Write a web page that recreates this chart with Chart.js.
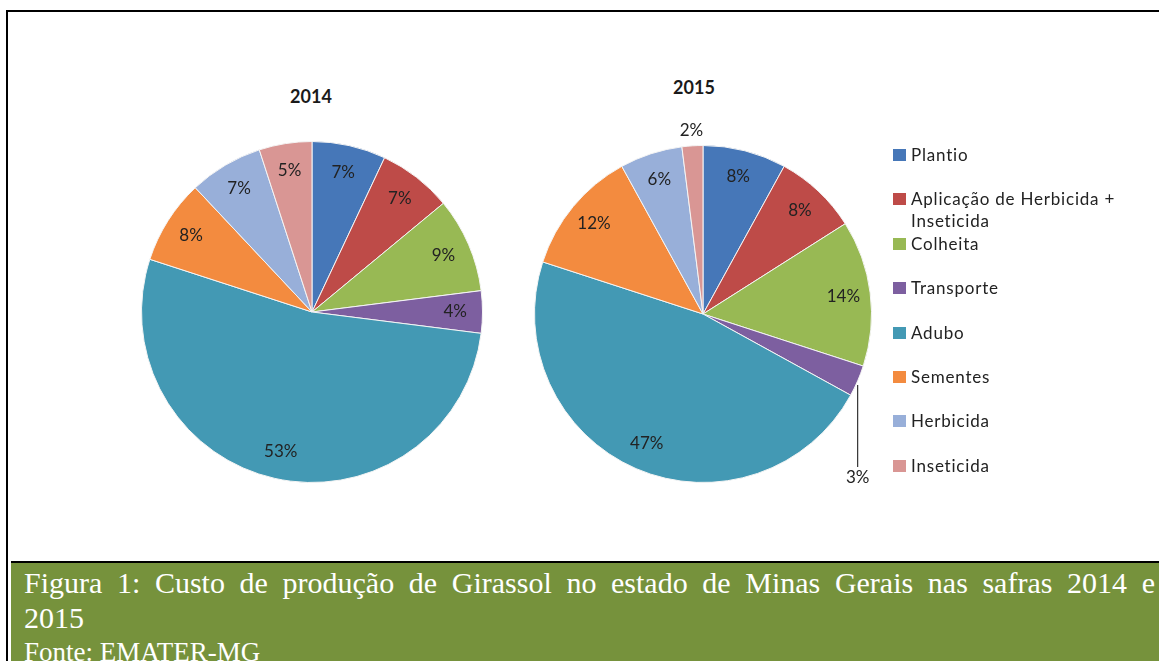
<!DOCTYPE html>
<html>
<head>
<meta charset="utf-8">
<script src="https://cdn.jsdelivr.net/npm/chart.js@4.4.1/dist/chart.umd.min.js"></script>
<style>
    body { margin: 0; width: 1159px; height: 661px; overflow: hidden; background: #fff; position: relative; font-family: Lato, sans-serif; }
    #frame { position: absolute; left: 6px; top: 10px; width: 1170px; height: 560px; border-left: 2.5px solid #000; border-top: 2.5px solid #000; }
    #caption { position: absolute; left: 6px; top: 561px; width: 1160px; height: 100px; border-left: 2.5px solid #000; }
    #captionBox { position: absolute; left: 2.5px; top: 0; right: 0; bottom: 0; background: #76923C; border-top: 2px solid #000;
        color: #fff; font-family: "Liberation Serif", "Times New Roman", serif; padding: 1.5px 0 0 13.5px; }
    #captionBox .line1 { width: 1131px; font-size: 30px; line-height: 35px; text-align: justify; text-align-last: justify; white-space: nowrap; }
    #captionBox .line2 { font-size: 30px; line-height: 35px; }
    #captionBox .fonte { font-size: 27px; line-height: 28px; margin-top: 3.5px; }
    .pieTitle { position: absolute; font-weight: bold; font-size: 18px; color: #1a1a1a; transform: translate(-50%, -50%); }
    canvas { position: absolute; }
    #legend { position: absolute; left: 893px; top: 0; }
    .item { position: absolute; left: 0; display: flex; align-items: flex-start; font-size: 17px; line-height: 22px; letter-spacing: 0.8px; color: #222; }
    .item .key { width: 13px; height: 12px; margin-top: 5px; margin-right: 5px; flex: none; }
    .item .txt { width: 230px; }
</style>
</head>
<body>
<div id="frame"></div>

<div class="pieTitle" style="left:311px; top:96px;">2014</div>
<div class="pieTitle" style="left:694px; top:87px;">2015</div>

<canvas id="pie2014" width="400" height="400" style="left:112px; top:112px;"></canvas>
<canvas id="pie2015" width="400" height="400" style="left:503px; top:114px;"></canvas>

<div id="legend"></div>

<div id="caption">
    <div id="captionBox">
        <div class="line1">Figura 1: Custo de produção de Girassol no estado de Minas Gerais nas safras 2014 e</div>
        <div class="line2">2015</div>
        <div class="fonte">Fonte: EMATER-MG</div>
    </div>
</div>

<script>
const categories = ['Plantio', 'Aplicação de Herbicida + Inseticida', 'Colheita', 'Transporte', 'Adubo', 'Sementes', 'Herbicida', 'Inseticida'];
const custo2014 = [7, 7, 9, 4, 53, 8, 7, 5];
const custo2015 = [8, 8, 14, 3, 47, 12, 6, 2];
const sliceColors = ['#4677B8', '#BE4B48', '#98B954', '#7D5FA0', '#4399B4', '#F38B3F', '#98AFD9', '#D99694'];

// percent labels drawn on the slices, a few of them outside the pie
const sliceLabels = {
    id: 'sliceLabels',
    afterDatasetsDraw(chart, args, opts) {
        const ctx = chart.ctx;
        const meta = chart.getDatasetMeta(0);
        const values = chart.data.datasets[0].data;
        const outside = opts.outside || {};
        ctx.save();
        ctx.font = '17px Lato';
        ctx.fillStyle = '#222';
        ctx.strokeStyle = '#333';
        ctx.lineWidth = 1.2;
        ctx.textAlign = 'center';
        ctx.textBaseline = 'middle';
        meta.data.forEach((arc, i) => {
            const p = arc.getProps(['x', 'y', 'startAngle', 'endAngle', 'outerRadius'], true);
            const mid = (p.startAngle + p.endAngle) / 2;
            const text = values[i] + '%';
            const out = outside[i];
            if (out && out.drop) {
                const ex = p.x + Math.cos(mid) * p.outerRadius;
                const ey = p.y + Math.sin(mid) * p.outerRadius;
                ctx.beginPath();
                ctx.moveTo(ex, ey + 4);
                ctx.lineTo(ex, ey + out.drop);
                ctx.stroke();
                ctx.fillText(text, ex, ey + out.drop + 11);
            } else {
                const r = p.outerRadius * (out ? out.r : opts.inside);
                ctx.fillText(text, p.x + Math.cos(mid) * r, p.y + Math.sin(mid) * r);
            }
        });
        ctx.restore();
    }
};

function pieConfig(values, pad, outside) {
    return {
        type: 'pie',
        data: {
            labels: categories,
            datasets: [{
                data: values,
                backgroundColor: sliceColors,
                borderColor: '#f4f4f4',
                borderWidth: 1
            }]
        },
        options: {
            responsive: false,
            animation: false,
            layout: { padding: pad },
            plugins: {
                legend: { display: false },
                tooltip: { enabled: false },
                sliceLabels: { inside: 0.84, outside: outside }
            }
        },
        plugins: [sliceLabels]
    };
}

const chart2014 = new Chart(document.getElementById('pie2014').getContext('2d'), pieConfig(custo2014, 29, {}));
const chart2015 = new Chart(document.getElementById('pie2015').getContext('2d'), pieConfig(custo2015, 31, {
    3: { drop: 86 },
    7: { r: 1.09 }
}));

// legend on the right, built from the same categories and colours
const legend = document.getElementById('legend');
categories.forEach((name, i) => {
    const item = document.createElement('div');
    item.className = 'item';
    item.style.top = (144 + i * 44.4) + 'px';
    item.innerHTML = '<span class="key" style="background:' + sliceColors[i] + '"></span><span class="txt">' + name + '</span>';
    legend.appendChild(item);
});
</script>
</body>
</html>
